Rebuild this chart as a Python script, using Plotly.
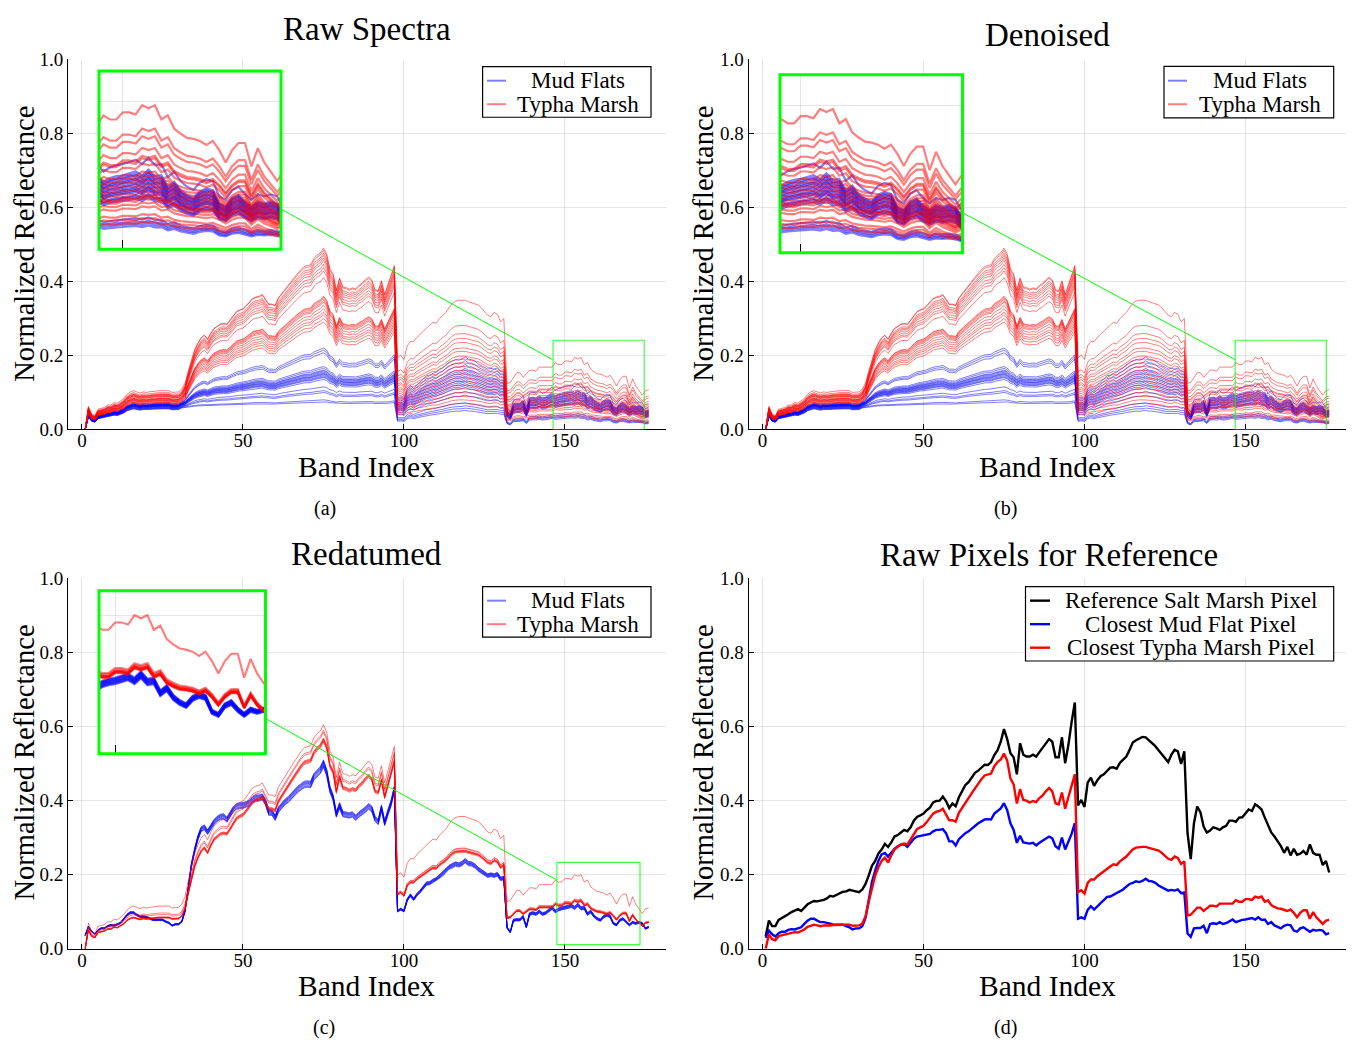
import plotly.graph_objects as go

# Page body keeps its default 8px margin, so the figure is sized to fit inside it.
PAGE_W, PAGE_H, OFF = 1357, 1053, 8
FW, FH = PAGE_W - 2 * OFF, PAGE_H - 2 * OFF
def px(x): return (x - OFF) / FW
def py(y): return 1 - (y - OFF) / FH

BANDS = list(range(1, 177))

# Reference pixels (panel d), one value per band
REF_SALT = [0.034,0.076,0.061,0.061,0.078,0.083,0.086,0.093,0.099,0.104,
0.107,0.102,0.112,0.120,0.125,0.129,0.128,0.129,0.132,0.136,
0.143,0.141,0.145,0.148,0.154,0.155,0.159,0.157,0.154,0.153,
0.160,0.175,0.198,0.224,0.237,0.257,0.268,0.283,0.275,0.287,
0.303,0.307,0.314,0.321,0.317,0.328,0.346,0.356,0.360,0.365,
0.374,0.381,0.395,0.399,0.400,0.411,0.399,0.380,0.392,0.385,
0.409,0.424,0.442,0.450,0.462,0.475,0.481,0.489,0.497,0.496,
0.504,0.523,0.536,0.559,0.593,0.566,0.528,0.517,0.471,0.555,
0.524,0.519,0.519,0.524,0.519,0.531,0.543,0.556,0.566,0.559,
0.517,0.517,0.571,0.501,0.550,0.612,0.665,0.387,0.402,0.383,
0.449,0.462,0.440,0.455,0.466,0.471,0.480,0.489,0.490,0.486,
0.502,0.510,0.519,0.537,0.557,0.563,0.568,0.572,0.571,0.563,
0.554,0.547,0.536,0.526,0.515,0.504,0.524,0.537,0.533,0.499,
0.533,0.312,0.242,0.339,0.384,0.369,0.330,0.314,0.319,0.328,
0.325,0.321,0.328,0.332,0.346,0.346,0.343,0.354,0.355,0.365,
0.376,0.372,0.390,0.384,0.376,0.354,0.334,0.314,0.303,0.290,
0.277,0.259,0.275,0.252,0.270,0.254,0.257,0.264,0.254,0.282,
0.259,0.254,0.254,0.226,0.237,0.206]

MUD_PIX = [0.030,0.049,0.039,0.033,0.042,0.046,0.046,0.051,0.053,0.052,
0.055,0.058,0.067,0.076,0.081,0.081,0.076,0.072,0.072,0.071,
0.068,0.065,0.065,0.065,0.065,0.061,0.058,0.052,0.055,0.055,
0.061,0.083,0.136,0.180,0.211,0.237,0.255,0.259,0.249,0.261,
0.270,0.277,0.281,0.282,0.275,0.286,0.297,0.303,0.305,0.305,
0.308,0.310,0.317,0.321,0.321,0.323,0.312,0.290,0.290,0.279,
0.296,0.305,0.312,0.317,0.325,0.333,0.339,0.344,0.349,0.350,
0.349,0.365,0.372,0.379,0.393,0.374,0.339,0.321,0.286,0.305,
0.287,0.286,0.284,0.286,0.279,0.286,0.291,0.296,0.303,0.298,
0.277,0.270,0.300,0.268,0.290,0.310,0.339,0.081,0.085,0.081,
0.105,0.115,0.106,0.116,0.123,0.131,0.140,0.141,0.146,0.149,
0.155,0.160,0.168,0.175,0.178,0.182,0.180,0.183,0.189,0.183,
0.182,0.178,0.171,0.166,0.162,0.157,0.159,0.157,0.160,0.150,
0.152,0.041,0.032,0.055,0.056,0.056,0.062,0.042,0.067,0.069,
0.067,0.072,0.067,0.069,0.074,0.079,0.072,0.076,0.078,0.079,
0.081,0.083,0.079,0.085,0.078,0.079,0.067,0.072,0.063,0.058,
0.055,0.062,0.065,0.063,0.049,0.046,0.055,0.058,0.051,0.046,
0.051,0.049,0.051,0.049,0.039,0.042]

TYPHA_PIX = [0.000,0.039,0.026,0.023,0.034,0.036,0.037,0.041,0.041,0.045,
0.044,0.048,0.052,0.059,0.063,0.065,0.063,0.061,0.063,0.062,
0.063,0.064,0.065,0.065,0.065,0.065,0.065,0.062,0.062,0.063,
0.068,0.087,0.127,0.167,0.198,0.220,0.237,0.246,0.233,0.252,
0.268,0.275,0.282,0.284,0.282,0.295,0.309,0.323,0.328,0.332,
0.342,0.354,0.365,0.370,0.372,0.378,0.363,0.347,0.347,0.343,
0.367,0.381,0.393,0.407,0.420,0.433,0.446,0.458,0.468,0.471,
0.473,0.493,0.504,0.511,0.527,0.508,0.460,0.444,0.392,0.431,
0.402,0.400,0.395,0.399,0.396,0.407,0.414,0.425,0.434,0.425,
0.393,0.390,0.422,0.378,0.409,0.437,0.471,0.153,0.158,0.149,
0.178,0.187,0.187,0.196,0.203,0.210,0.217,0.222,0.228,0.226,
0.236,0.242,0.249,0.259,0.268,0.273,0.275,0.275,0.275,0.272,
0.270,0.267,0.265,0.259,0.250,0.243,0.240,0.249,0.245,0.229,
0.236,0.090,0.092,0.102,0.111,0.111,0.102,0.109,0.116,0.116,
0.114,0.122,0.122,0.122,0.122,0.122,0.131,0.127,0.127,0.134,
0.134,0.132,0.141,0.138,0.141,0.127,0.131,0.118,0.113,0.109,
0.108,0.106,0.102,0.106,0.097,0.085,0.097,0.104,0.104,0.081,
0.099,0.085,0.076,0.067,0.076,0.078]

# Per-pixel levels (a)/(b): value at band 20, 75, 118, 150
RAW_MUD = [
[0.068,0.220,0.190,0.115],[0.066,0.214,0.180,0.100],[0.066,0.207,0.170,0.097],
[0.065,0.170,0.160,0.095],[0.064,0.165,0.155,0.092],[0.064,0.160,0.150,0.090],
[0.063,0.158,0.145,0.088],[0.063,0.155,0.140,0.085],[0.062,0.152,0.135,0.083],
[0.062,0.150,0.130,0.080],[0.061,0.148,0.125,0.078],[0.060,0.145,0.120,0.076],
[0.060,0.142,0.115,0.074],[0.059,0.140,0.110,0.070],[0.058,0.135,0.100,0.068],
[0.057,0.115,0.090,0.065],[0.056,0.105,0.070,0.040],[0.055,0.100,0.062,0.036],
[0.054,0.080,0.056,0.033],[0.053,0.075,0.050,0.030]]
RAW_TYPHA = [
[0.095,0.490,0.349,0.185],[0.100,0.484,0.281,0.155],[0.092,0.476,0.259,0.145],
[0.090,0.470,0.246,0.130],[0.090,0.463,0.235,0.120],[0.088,0.456,0.220,0.117],
[0.087,0.446,0.211,0.110],[0.085,0.437,0.198,0.100],[0.085,0.428,0.190,0.095],
[0.082,0.410,0.180,0.090],[0.080,0.360,0.170,0.085],[0.080,0.357,0.160,0.080],
[0.078,0.353,0.150,0.075],[0.078,0.348,0.140,0.070],[0.076,0.344,0.130,0.068],
[0.075,0.335,0.120,0.065],[0.074,0.326,0.110,0.060],[0.072,0.317,0.100,0.055],
[0.070,0.310,0.090,0.045],[0.070,0.300,0.080,0.040],[0.068,0.290,0.070,0.035]]
DEN_MUD = RAW_MUD
DEN_TYPHA = RAW_TYPHA
# Panel (c) redatumed
RED_MUD = [
[0.083,0.490,0.224,0.106],[0.084,0.492,0.226,0.107],[0.084,0.494,0.227,0.108],
[0.085,0.497,0.228,0.109],[0.085,0.500,0.230,0.110],[0.086,0.502,0.231,0.111],
[0.086,0.504,0.232,0.112],[0.087,0.506,0.234,0.113],[0.087,0.508,0.235,0.114],
[0.088,0.510,0.236,0.115]]
RED_TYPHA = [
[0.079,0.558,0.260,0.121],[0.080,0.561,0.262,0.122],[0.080,0.563,0.263,0.122],
[0.081,0.565,0.264,0.123],[0.081,0.567,0.265,0.124],[0.082,0.569,0.266,0.124],
[0.088,0.585,0.270,0.126],[0.092,0.590,0.272,0.128],[0.110,0.605,0.357,0.190]]


def spectrum(levels, t_vis, t_nir, t_sw):
    vis, nir, sw1, sw2 = levels
    base = t_vis[30] * vis / t_vis[19]
    out = []
    for i, b in enumerate(BANDS):
        if b <= 31:
            v = t_vis[i] * vis / t_vis[19]
        elif b <= 97:
            v = base + (t_nir[i] - t_nir[30]) * (nir - base) / (t_nir[74] - t_nir[30])
        elif b <= 131:
            v = t_sw[i] * sw1 / t_sw[117]
        else:
            v = t_sw[i] * sw2 / t_sw[149]
        out.append(v)
    return out

BLUE_A = "rgba(0,0,255,0.5)"
RED_A = "rgba(255,0,0,0.5)"
LIME = "#00ff00"
FONT = "Liberation Serif"

fig = go.Figure()

def add_lines(ys, color, main, inset, wmain=1.0, winset=2.2):
    for y in ys:
        fig.add_trace(go.Scatter(x=BANDS, y=y, mode="lines", line=dict(color=color, width=wmain),
                                 xaxis="x" + main, yaxis="y" + main, hoverinfo="skip"))
        if inset:
            fig.add_trace(go.Scatter(x=BANDS, y=y, mode="lines", line=dict(color=color, width=winset),
                                     xaxis="x" + inset, yaxis="y" + inset, hoverinfo="skip"))

raw_mud = [spectrum(l, TYPHA_PIX, TYPHA_PIX, MUD_PIX) for l in RAW_MUD]
raw_typ = [spectrum(l, TYPHA_PIX, TYPHA_PIX, TYPHA_PIX) for l in RAW_TYPHA]
den_mud = [spectrum(l, TYPHA_PIX, TYPHA_PIX, MUD_PIX) for l in DEN_MUD]
den_typ = [spectrum(l, TYPHA_PIX, TYPHA_PIX, TYPHA_PIX) for l in DEN_TYPHA]
red_mud = [spectrum(l, MUD_PIX, MUD_PIX, MUD_PIX) for l in RED_MUD]
red_typ = [spectrum(l, TYPHA_PIX, TYPHA_PIX, TYPHA_PIX) for l in RED_TYPHA]

add_lines(raw_mud, BLUE_A, "", "5")
add_lines(raw_typ, RED_A, "", "5")
add_lines(den_mud, BLUE_A, "2", "6")
add_lines(den_typ, RED_A, "2", "6")
add_lines(red_mud, BLUE_A, "3", "7")
add_lines(red_typ, RED_A, "3", "7")
for y, c in [(REF_SALT, "black"), (MUD_PIX, "blue"), (TYPHA_PIX, "red")]:
    fig.add_trace(go.Scatter(x=BANDS, y=y, mode="lines", line=dict(color=c, width=2.4),
                             xaxis="x4", yaxis="y4", hoverinfo="skip"))

# Main axes (page pixel positions)
panels = {
    "": ((68.3, 665.6), (50, 428)),
    "2": ((748.8, 1346.1), (50, 428)),
    "3": ((68.3, 665.6), (580, 958)),
    "4": ((748.8, 1346.1), (580, 958)),
}
YT = [0, 0.2, 0.4, 0.6, 0.8, 1.0]
lay = {}
for k, ((x0, x1), (y0, y1)) in panels.items():
    lay["xaxis" + k] = dict(domain=[px(x0), px(x1)], range=[-4.25, 181.25], anchor="y" + k,
        tickvals=[0, 50, 100, 150], ticks="inside", ticklen=5, tickcolor="black",
        showline=True, linecolor="black", linewidth=1.3, showgrid=True,
        gridcolor="rgba(0,0,0,0.1)", gridwidth=1, zeroline=False, ticklabelstandoff=-6,
        tickfont=dict(family=FONT, size=19, color="black"))
    lay["yaxis" + k] = dict(domain=[py(y1), py(y0)], range=[0, 1], anchor="x" + k,
        tickvals=YT, ticktext=["%.1f" % v for v in YT], ticks="inside", ticklen=5,
        tickcolor="black", showline=True, linecolor="black", linewidth=1.3, showgrid=True,
        gridcolor="rgba(0,0,0,0.1)", gridwidth=1, zeroline=False, ticklabelstandoff=0,
        tickfont=dict(family=FONT, size=19, color="black"))

insets = {
    "5": ((99, 281), (62, 244), (146.3, 174.6), (0, 0.241), ""),
    "6": ((780, 962.5), (66, 247.5), (146.8, 175.1), (0, 0.241), "2"),
    "7": ((99, 265.5), (592.7, 759), (147.5, 173.3), (0.0114, 0.233), "3"),
}
shapes = []
for k, ((x0, x1), (y0, y1), xr, yr, main) in insets.items():
    lay["xaxis" + k] = dict(domain=[px(x0), px(x1)], range=list(xr), anchor="y" + k,
        tickvals=[150], ticks="inside", ticklen=9, tickcolor="black", showticklabels=False,
        showline=False, showgrid=True, gridcolor="rgba(0,0,0,0.1)", zeroline=False)
    lay["yaxis" + k] = dict(domain=[py(y1), py(y0)], range=list(yr), anchor="x" + k,
        tickvals=[0.2], ticks="", showticklabels=False, showline=False, showgrid=True,
        gridcolor="rgba(0,0,0,0.1)", zeroline=False)
    shapes.append(dict(type="rect", xref="x%s domain" % k, yref="y%s domain" % k,
        x0=0, x1=1, y0=0, y1=1, fillcolor="white", line=dict(width=0), layer="below"))
    shapes.append(dict(type="rect", xref="paper", yref="paper", x0=px(x0), x1=px(x1),
        y0=py(y1), y1=py(y0), line=dict(color=LIME, width=3), layer="above"))
    shapes.append(dict(type="rect", xref="x" + main, yref="y" + main, x0=xr[0], x1=xr[1],
        y0=yr[0], y1=yr[1], line=dict(color="rgba(0,255,0,0.75)", width=1.2), layer="above"))

for (ax, ay, bx, by) in [(281, 203, 552.5, 356.7), (962.5, 206.7, 1235, 356.7), (265.5, 723, 556.5, 887.7)]:
    shapes.append(dict(type="line", xref="paper", yref="paper", x0=px(ax), y0=py(ay),
        x1=px(bx), y1=py(by), line=dict(color=LIME, width=1), layer="above"))

annotations = []
def text(x, y, s, size, angle=0):
    annotations.append(dict(x=px(x), y=py(y), xref="paper", yref="paper", text=s,
        showarrow=False, xanchor="center", yanchor="middle", textangle=angle,
        font=dict(family=FONT, size=size, color="black")))

# Legends
LEGENDS = [
    ((482.6, 651, 57.7, 109.3), [("Mud Flats", BLUE_A, 2), ("Typha Marsh", RED_A, 2)], 577.5, (487, 506), 72, 24),
    ((1164, 1333.7, 57.3, 110), [("Mud Flats", BLUE_A, 2), ("Typha Marsh", RED_A, 2)], 1259.7, (1168, 1187), 72, 24),
    ((482.6, 651, 588.3, 640), [("Mud Flats", BLUE_A, 2), ("Typha Marsh", RED_A, 2)], 577.5, (487, 506), 602.7, 24),
    ((1025.5, 1333.7, 588.3, 664.3), [("Reference Salt Marsh Pixel", "black", 2.4),
        ("Closest Mud Flat Pixel", "blue", 2.4), ("Closest Typha Marsh Pixel", "red", 2.4)],
        1190.8, (1030, 1050), 602.7, 24),
]
for (bx0, bx1, by0, by1), entries, tcx, (sx0, sx1), ey0, dy in LEGENDS:
    shapes.append(dict(type="rect", xref="paper", yref="paper", x0=px(bx0), x1=px(bx1),
        y0=py(by1), y1=py(by0), fillcolor="white", line=dict(color="black", width=1.2), layer="above"))
    for i, (lab, col, lw) in enumerate(entries):
        yy = ey0 + i * dy
        shapes.append(dict(type="line", xref="paper", yref="paper", x0=px(sx0), x1=px(sx1),
            y0=py(yy), y1=py(yy), line=dict(color=col, width=lw), layer="above"))
        text(tcx, yy, lab, 23)

text(366.5, 19, "Raw Spectra", 33)
text(1047, 25, "Denoised", 33)
text(366, 555, "Redatumed", 33)
text(1048.5, 556, "Raw Pixels for Reference", 33)
for cx, cy in [(366, 466), (1047, 466), (366, 996), (1047, 996)]:
    text(cx, cy, "Band Index", 29.5)
for cx, cy in [(25, 238.5), (704, 238.5), (25, 768), (704, 768)]:
    text(cx, cy, "Normalized Reflectance", 28.5, -90)
text(324.5, 509, "(a)", 20)
text(1005.5, 509, "(b)", 20)
text(323.5, 1038, "(c)", 20)
text(1005, 1038, "(d)", 20)

fig.update_layout(width=FW, height=FH, margin=dict(l=0, r=0, t=0, b=0), showlegend=False,
    paper_bgcolor="white", plot_bgcolor="white", font=dict(family=FONT, color="black"),
    shapes=shapes, annotations=annotations, **lay)
fig.write_html("out.html", config={"displayModeBar": False})
